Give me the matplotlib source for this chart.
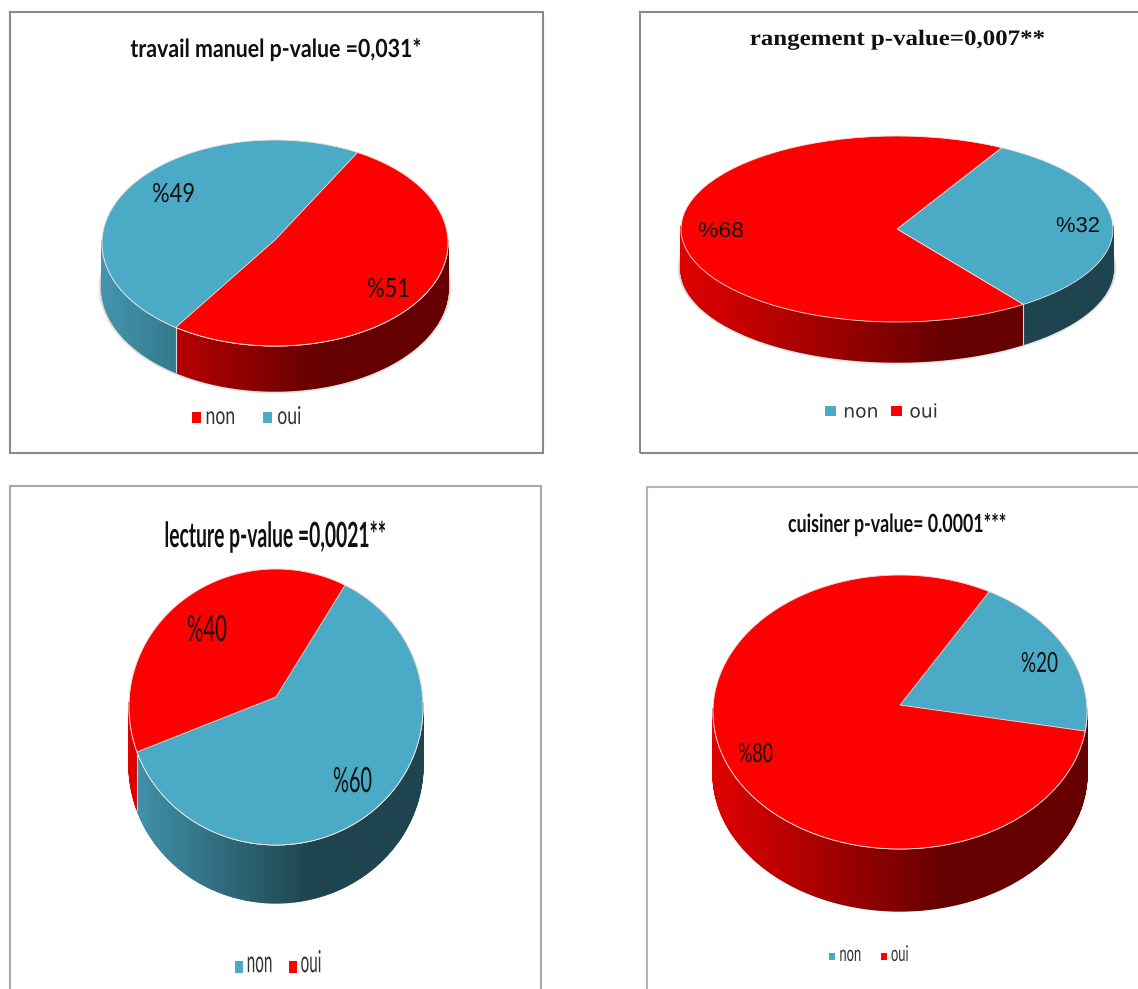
import matplotlib
matplotlib.use("Agg")
import numpy as np
import matplotlib.pyplot as plt
from matplotlib.patches import Rectangle, Patch
from matplotlib.patheffects import AbstractPathEffect
from matplotlib.transforms import Affine2D

W, H = 1138, 989
BLUE = "#4BAAC5"
RED = "#FF0000"
RIM = "#f0e4e4"

# ---- data ----
titles = ["travail manuel p-value =0,031*", "rangement p-value=0,007**",
          "lecture p-value =0,0021**", "cuisiner p-value= 0.0001***"]
series_labels = ["non", "oui"]
values_travail = [51, 49]
values_rangement = [32, 68]
values_lecture = [60, 40]
values_cuisiner = [20, 80]
all_values = [values_travail, values_rangement, values_lecture, values_cuisiner]
pct_labels = [["%51", "%49"], ["%32", "%68"], ["%60", "%40"], ["%20", "%80"]]
slice_colors = [[RED, BLUE], [BLUE, RED], [BLUE, RED], [BLUE, RED]]

# ---- layout (pixels) ----
layout = [
    dict(cx=275, cy=243, rx=173, ry=103, depth=45, start=60, apex=3, arc=(-125, 61.5), wall_end=-125, shadow=True),
    dict(cx=897, cy=229, rx=216, ry=93, depth=40, start=61, apex=0, arc=None, wall_end=None, shadow=True),
    dict(cx=276, cy=707, rx=147, ry=138, depth=58, start=60, apex=10, arc=(-161, 62), wall_end=-161, shadow=False),
    dict(cx=900, cy=712, rx=187, ry=137, depth=62, start=62, apex=7, arc=(-8, 61.5), wall_end=0, shadow=False),
]
# centre x, baseline y, width, digit height, family, weight, digit/em ratio
title_style = [
    (275.5, 57, 291, 18, "Lato", "bold", 0.72),
    (897.5, 45, 295, 15, "Liberation Serif", "bold", 0.68),
    (275, 547, 222, 25, "Lato", "bold", 0.72),
    (897.5, 532, 219, 18, "Lato", "bold", 0.72),
]
pct_style = [
    [(388.5, 297, 43, 19, "Lato"), (173.5, 202, 43, 19, "Lato")],
    [(1078, 232, 44, 15, "Liberation Sans"), (721, 237, 46, 15, "Liberation Sans")],
    [(352.5, 792, 39, 25, "Lato"), (207, 641, 40, 26, "Lato")],
    [(1039.5, 672, 37, 20, "Lato"), (755.5, 762, 35, 19, "Lato")],
]
legend_style = [
    dict(x=246.5, y=419, size=12.7, family="Lato", sy=1.4, mw=9, mh=10, pad=5, gap=28),
    dict(x=881.5, y=412, size=13.5, family="DejaVu Sans", sy=1.0, mw=11, mh=8, pad=7, gap=13),
    dict(x=278, y=968, size=11, family="Lato", sy=2.0, mw=8, mh=13, pad=4, gap=16),
    dict(x=869, y=957, size=9.3, family="Lato", sy=1.7, mw=6, mh=7, pad=4, gap=20),
]
frames = [
    dict(x0=10, y0=12, x1=543, y1=453, c="#8a8a8a"),
    dict(x0=640, y0=12, x1=1150, y1=453, c="#8a8a8a"),
    dict(x0=10, y0=486, x1=541, y1=1010, c="#a8a8a8"),
    dict(x0=647, y0=487, x1=1150, y1=1010, c="#b4b4b4"),
]

fig = plt.figure(figsize=(W / 100, H / 100), dpi=100, facecolor="white")
renderer = fig.canvas.get_renderer()


def fx(x):
    return x / W


def fy(y):
    return 1 - y / H


class TallText(AbstractPathEffect):
    """Stretches glyphs vertically from the baseline; the text stays a Text artist."""

    def __init__(self, sy):
        super().__init__((0, 0))
        self.sy = sy

    def draw_path(self, renderer, gc, tpath, affine, rgbFace=None):
        renderer.draw_path(gc, tpath, Affine2D().scale(1, self.sy) + affine, rgbFace)


def fitted_text(s, x, y, width, height, family, weight="normal", ratio=0.72):
    t = fig.text(fx(x), fy(y), s, ha="center", va="baseline", fontsize=20,
                 family=family, weight=weight, color="#101010")
    size = 20 * width / t.get_window_extent(renderer).width
    t.set_fontsize(size)
    t.set_path_effects([TallText(height / (ratio * size * 100 / 72))])
    return t


for fr in frames:
    fig.add_artist(Rectangle((fx(fr["x0"]), fy(fr["y1"])), (fr["x1"] - fr["x0"]) / W,
                             (fr["y1"] - fr["y0"]) / H, transform=fig.transFigure,
                             fill=False, edgecolor=fr["c"], linewidth=1.5))


def shade(color, x):
    t = (x + 1) / 2
    f = max(0.40, 0.88 - 0.48 * t / 0.62)
    return tuple(c * f for c in matplotlib.colors.to_rgb(color))


for vals, cols, lay in zip(all_values, slice_colors, layout):
    m = 1.8
    ax = fig.add_axes([fx(lay["cx"] - lay["rx"] * m), fy(lay["cy"] + lay["ry"] * m),
                       2 * m * lay["rx"] / W, 2 * m * lay["ry"] / H])
    ax.patch.set_alpha(0)
    ax.pie(vals, colors=cols, startangle=lay["start"], counterclock=False,
           radius=1, center=(0, 0),
           wedgeprops=dict(edgecolor=RIM, linewidth=0.6, zorder=5))
    ax.set_aspect("auto")
    ax.set_xlim(-m, m)
    ax.set_ylim(-m, m)
    d = lay["depth"] / lay["ry"]
    th = np.linspace(0, 2 * np.pi, 300)

    if lay["shadow"]:
        for grow, col in [(3.5, "#e6e6e6"), (2, "#c8c8c8")]:
            ax.fill(np.cos(th) * (1 + grow / lay["rx"]),
                    np.sin(th) * (1 + grow / lay["ry"]) - d + 1.0 / lay["ry"],
                    color=col, lw=0, zorder=0.5)

    # side wall, built from the slice angles
    shift = 0
    if lay["wall_end"] is not None:
        shift = lay["wall_end"] - (lay["start"] - vals[0] / sum(vals) * 360)
    a0 = lay["start"] + shift
    for v, col in zip(vals, cols):
        a1 = a0 - v / sum(vals) * 360
        for g in np.arange(a1, a0, 0.75):
            g1 = min(g + 0.75, a0)
            ang = np.radians([g, g1])
            if np.sin(ang).mean() > 0.03:
                continue
            xs, ys = np.cos(ang), np.sin(ang)
            c = shade(col, xs.mean())
            ax.fill([xs[0], xs[1], xs[1], xs[0]], [ys[0], ys[1], ys[1] - d, ys[0] - d],
                    facecolor=c, edgecolor=c, lw=0.9, zorder=1)
        # light seam between two slices on the wall
        xe, ye = np.cos(np.radians(a1)), np.sin(np.radians(a1))
        if ye < -0.1:
            ax.plot([xe, xe], [ye, ye - d], color="#d8d8d8", lw=0.8, zorder=2)
        a0 = a1

    # slices seen in perspective: their common point lies above the ellipse centre
    if lay["arc"]:
        ax.fill(np.cos(th), np.sin(th), facecolor=cols[1], edgecolor=RIM, lw=0.6, zorder=6)
        arc = np.radians(np.linspace(lay["arc"][0], lay["arc"][1], 200))
        ax.fill(np.r_[0, np.cos(arc)], np.r_[lay["apex"] / lay["ry"], np.sin(arc)],
                facecolor=cols[0], edgecolor=RIM, lw=0.6, zorder=7)

for title, st in zip(titles, title_style):
    fitted_text(title, st[0], st[1], st[2], st[3], st[4], st[5], st[6])

for labs, sts in zip(pct_labels, pct_style):
    for lab, st in zip(labs, sts):
        ratio = 0.72 if st[4] == "Lato" else 0.70
        fitted_text(lab, st[0], st[1], st[2], st[3], st[4], "normal", ratio)

for cols, st in zip(slice_colors, legend_style):
    em = st["size"] * 100 / 72
    handles = [Patch(facecolor=c, edgecolor="none") for c in cols]
    leg = fig.legend(handles, series_labels, loc="center",
                     bbox_to_anchor=(fx(st["x"]), fy(st["y"])), ncol=2, frameon=False,
                     prop=dict(family=st["family"], size=st["size"]),
                     handlelength=st["mw"] / em, handleheight=st["mh"] / em,
                     columnspacing=st["gap"] / em, handletextpad=st["pad"] / em,
                     borderpad=0, labelcolor="#333333")
    for t in leg.get_texts():
        t.set_path_effects([TallText(st["sy"])])

fig.savefig("out.png", dpi=100, facecolor="white")
